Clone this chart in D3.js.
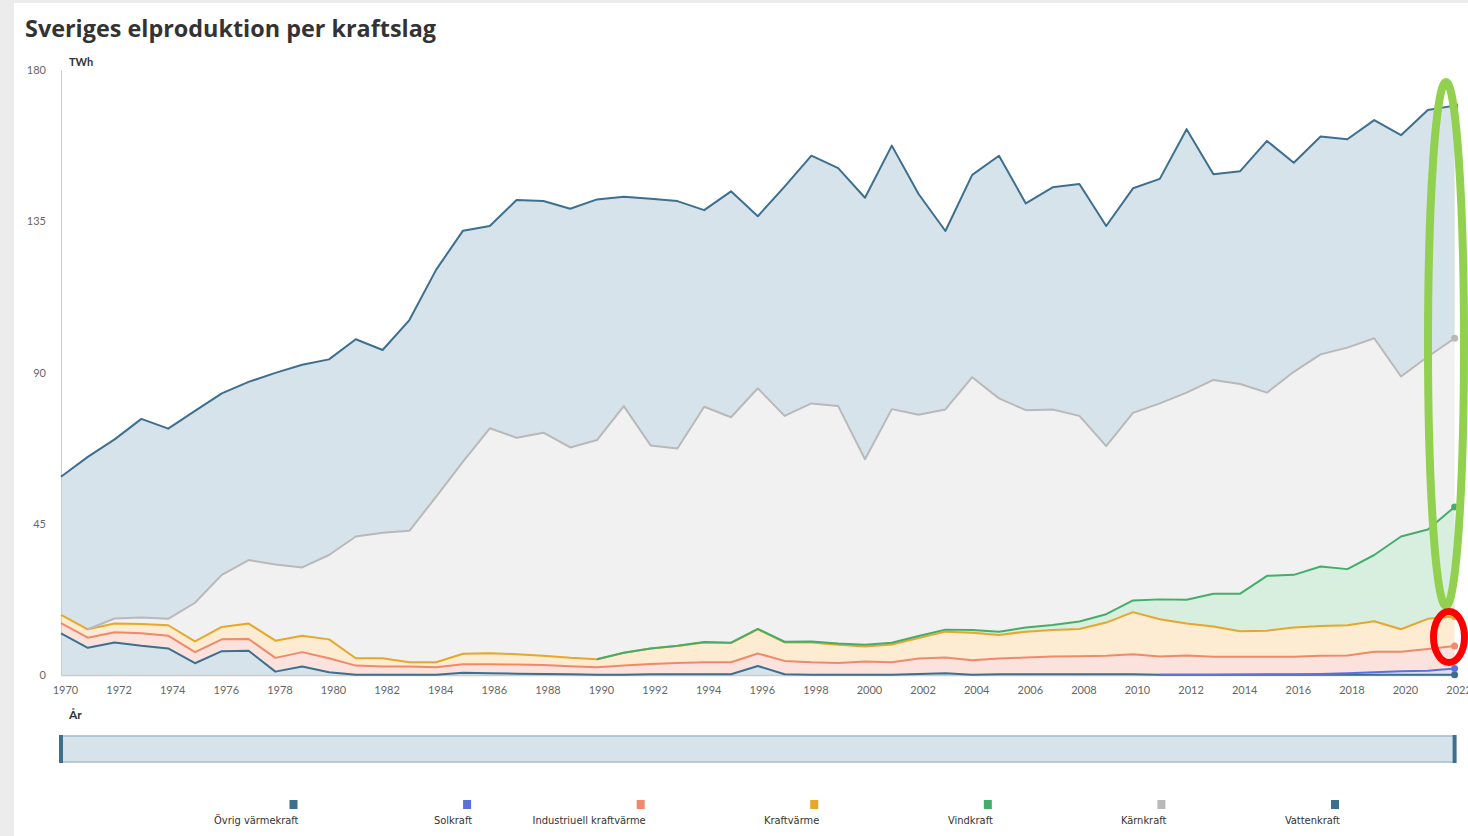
<!DOCTYPE html>
<html>
<head>
<meta charset="utf-8">
<script src="https://cdn.jsdelivr.net/npm/d3@7"></script>
<style>
  body { margin: 0; background: #ececec; }
  svg { display: block; }
  .tick text { font-family: Lato, "Open Sans", sans-serif; }
</style>
</head>
<body>
<svg id="chart" width="1468" height="836"></svg>
<script>
const years = [1970, 1971, 1972, 1973, 1974, 1975, 1976, 1977, 1978, 1979,
  1980, 1981, 1982, 1983, 1984, 1985, 1986, 1987, 1988, 1989,
  1990, 1991, 1992, 1993, 1994, 1995, 1996, 1997, 1998, 1999,
  2000, 2001, 2002, 2003, 2004, 2005, 2006, 2007, 2008, 2009,
  2010, 2011, 2012, 2013, 2014, 2015, 2016, 2017, 2018, 2019,
  2020, 2021, 2022];

// TWh per kraftslag, stackas i denna ordning (nerifrån och upp)
const ovrigVarmekraft = [12.4, 8.1, 9.7, 8.7, 7.9, 3.5, 7.1, 7.2, 1.0, 2.5,
  0.8, 0.1, 0.1, 0.1, 0.05, 0.7, 0.5, 0.4, 0.3, 0.2,
  0.1, 0.1, 0.2, 0.2, 0.2, 0.2, 2.7, 0.2, 0.1, 0.1,
  0.1, 0.1, 0.3, 0.5, 0.1, 0.2, 0.2, 0.2, 0.2, 0.2,
  0.2, 0.1, 0.1, 0.1, 0.1, 0.1, 0.1, 0.1, 0.1, 0.1,
  0.1, 0.1, 0.1];
const solkraft = [null, null, null, null, null, null, null, null, null, null,
  null, null, null, null, null, null, null, null, null, null,
  null, null, null, null, null, null, null, null, null, null,
  null, null, null, null, null, null, null, null, null, null,
  null, 0.0, 0.0, 0.0, 0.05, 0.1, 0.1, 0.2, 0.4, 0.7,
  1.0, 1.2, 1.8];
const industriellKraftvarme = [3.0, 3.0, 3.0, 3.7, 3.8, 3.3, 3.5, 3.5, 4.1, 4.3,
  4.2, 2.7, 2.4, 2.4, 2.25, 2.5, 2.7, 2.7, 2.7, 2.4,
  2.2, 2.7, 3.1, 3.4, 3.6, 3.6, 3.7, 4.0, 3.7, 3.5,
  3.9, 3.7, 4.6, 4.7, 4.3, 4.7, 5.0, 5.3, 5.4, 5.5,
  6.0, 5.4, 5.7, 5.3, 5.25, 5.2, 5.2, 5.4, 5.3, 6.1,
  5.8, 6.4, 6.7];
const kraftvarme = [2.5, 2.5, 2.6, 2.8, 3.1, 3.2, 3.7, 4.6, 5.1, 4.9,
  5.6, 2.2, 2.5, 1.3, 1.5, 3.1, 3.3, 3.1, 2.7, 2.5,
  2.4, 3.8, 4.6, 5.0, 5.9, 5.7, 7.2, 5.5, 5.9, 5.4,
  4.5, 5.3, 6.1, 7.7, 8.2, 7.0, 7.7, 7.9, 8.1, 9.9,
  12.5, 11.1, 9.5, 9.0, 7.6, 7.8, 8.7, 8.9, 9.0, 9.1,
  6.7, 9.0, 8.8];
const vindkraft = [null, null, null, null, null, null, null, null, null, null,
  null, null, null, null, null, null, null, null, null, null,
  0.0, 0.0, 0.0, 0.1, 0.1, 0.1, 0.1, 0.2, 0.3, 0.4,
  0.5, 0.5, 0.6, 0.6, 0.8, 1.0, 1.2, 1.5, 2.2, 2.5,
  3.5, 5.9, 7.1, 9.8, 11.2, 16.3, 15.7, 17.7, 16.7, 19.7,
  27.6, 26.6, 32.6];
const karnkraft = [null, 0.0, 1.5, 1.9, 1.9, 11.5, 15.5, 18.9, 22.7, 20.3,
  25.1, 36.2, 37.3, 39.1, 49.3, 57.2, 66.9, 64.4, 66.4, 62.6,
  65.2, 73.4, 60.4, 58.7, 70.0, 67.1, 71.6, 67.2, 70.8, 70.6,
  55.2, 69.5, 65.8, 65.5, 75.2, 69.4, 64.7, 64.1, 61.2, 50.0,
  55.8, 58.3, 61.6, 63.6, 62.4, 54.5, 60.4, 63.1, 65.9, 64.5,
  47.6, 51.4, 50.2];
const vattenkraft = [41.1, 51.3, 53.3, 59.1, 56.6, 57.1, 54.0, 53.0, 57.0, 60.3,
  58.2, 58.7, 54.4, 62.7, 67.5, 68.7, 60.2, 70.7, 68.9, 71.0,
  71.6, 62.3, 73.4, 73.6, 58.5, 67.2, 51.2, 68.2, 73.7, 70.8,
  77.8, 78.4, 65.7, 53.1, 60.2, 72.2, 61.5, 66.1, 69.0, 65.5,
  66.8, 66.8, 78.4, 61.2, 63.3, 74.9, 62.2, 64.8, 62.0, 64.9,
  71.8, 73.4, 69.2];

const seriesNames = ["Övrig värmekraft", "Solkraft", "Industriuell kraftvärme",
  "Kraftvärme", "Vindkraft", "Kärnkraft", "Vattenkraft"];
const seriesValues = [ovrigVarmekraft, solkraft, industriellKraftvarme,
  kraftvarme, vindkraft, karnkraft, vattenkraft];
const lineColors = ["#3d6f8f", "#5b72dc", "#f0896b", "#e6a72a", "#45ad6c", "#b9b9b9", "#3d6f8f"];
const fillColors = ["#d7e3ea", "#dde2f7", "#fbe2dd", "#fdecd2", "#d8eedf", "#f1f1f1", "#d7e3ea"];
const yTicks = [0, 45, 90, 135, 180];
const xTicks = years.filter((yr) => yr % 2 === 0);

const svg = d3.select("#chart");

// vit panel med grå kant upptill och till vänster
svg.append("rect").attr("x", 14).attr("y", 3).attr("width", 1454).attr("height", 833).attr("fill", "#fff");

svg.append("text")
  .attr("x", 25).attr("y", 37)
  .attr("font-family", "'Open Sans', Lato, sans-serif")
  .attr("font-weight", "bold")
  .attr("font-size", 23)
  .attr("fill", "#333")
  .attr("textLength", 411)
  .attr("lengthAdjust", "spacingAndGlyphs")
  .text("Sveriges elproduktion per kraftslag");

const x = d3.scaleLinear().domain([1970, 2022]).range([61, 1454.6]);
const y = d3.scaleLinear().domain([0, 180]).range([675, 70]);

const table = years.map((yr, i) => {
  const row = { year: yr };
  seriesNames.forEach((name, k) => { row[name] = seriesValues[k][i] ?? 0; });
  return row;
});
const stacked = d3.stack().keys(seriesNames)(table);

const area = d3.area()
  .x((d) => x(d.data.year))
  .y0((d) => y(d[0]))
  .y1((d) => y(d[1]));

svg.append("g")
  .selectAll("path")
  .data(stacked)
  .join("path")
  .attr("d", area)
  .attr("fill", (d, i) => fillColors[i]);

// axlar
const yAxis = svg.append("g")
  .attr("transform", "translate(61,0)")
  .call(d3.axisLeft(y).tickValues(yTicks).tickSize(0).tickPadding(15));
yAxis.select(".domain").attr("stroke", "#ccc");
yAxis.selectAll("text").attr("font-size", 11).attr("fill", "#666");

const xAxis = svg.append("g")
  .attr("transform", "translate(0,675)")
  .call(d3.axisBottom(x).tickValues(xTicks).tickFormat(d3.format("d")).tickSize(0).tickPadding(11));
xAxis.select(".domain").attr("stroke", "#ccc").attr("stroke-width", 1.5);
xAxis.selectAll("text").attr("font-size", 11).attr("fill", "#666").attr("dx", 4);

svg.append("text").attr("x", 69).attr("y", 66)
  .attr("font-family", "Lato, sans-serif").attr("font-weight", "bold")
  .attr("font-size", 11).attr("fill", "#333").text("TWh");
svg.append("text").attr("x", 69).attr("y", 719)
  .attr("font-family", "Lato, sans-serif").attr("font-weight", "bold")
  .attr("font-size", 12).attr("fill", "#333").text("År");

// linjer, bara där serien har värden
stacked.forEach((layer, k) => {
  const raw = seriesValues[k];
  const line = d3.line()
    .defined((d, i) => raw[i] !== null)
    .x((d) => x(d.data.year))
    .y((d) => y(d[1]));
  svg.append("path")
    .attr("d", line(layer))
    .attr("fill", "none")
    .attr("stroke", lineColors[k])
    .attr("stroke-width", 2)
    .attr("stroke-linejoin", "round");
});

// markör på sista punkten
svg.append("g")
  .selectAll("circle")
  .data(stacked)
  .join("circle")
  .attr("cx", (d) => x(d[d.length - 1].data.year))
  .attr("cy", (d) => y(d[d.length - 1][1]))
  .attr("r", 3.5)
  .attr("fill", (d, i) => lineColors[i]);

// navigator
svg.append("rect")
  .attr("x", x(1970)).attr("y", 736)
  .attr("width", x(2022) - x(1970)).attr("height", 26)
  .attr("fill", "#d7e3ea").attr("stroke", "#a6bccb").attr("stroke-width", 1.5);
[x(1970), x(2022)].forEach((hx) => {
  svg.append("rect").attr("x", hx - 2).attr("y", 735).attr("width", 4).attr("height", 28).attr("fill", "#3d6f8f");
});

// legend
const legendX = d3.scaleLinear().domain([0, seriesNames.length - 1]).range([293.5, 1335]);
const legend = svg.append("g")
  .selectAll("g")
  .data(seriesNames)
  .join("g")
  .attr("transform", (d, i) => `translate(${legendX(i)},0)`);
legend.append("rect")
  .attr("x", -4).attr("y", 800).attr("width", 8).attr("height", 9)
  .attr("fill", (d, i) => lineColors[i]);
legend.append("text")
  .attr("x", 5).attr("y", 824)
  .attr("text-anchor", "end")
  .attr("font-family", "'Liberation Sans Narrow', 'DejaVu Sans Condensed', sans-serif")
  .attr("font-size", 11)
  .attr("fill", "#333")
  .text((d) => d);

// markeringar
svg.append("ellipse")
  .attr("cx", 1446).attr("cy", 344).attr("rx", 18).attr("ry", 262)
  .attr("fill", "none").attr("stroke", "#92d050").attr("stroke-width", 8);
svg.append("ellipse")
  .attr("cx", 1449).attr("cy", 637).attr("rx", 15.5).attr("ry", 25.5)
  .attr("fill", "none").attr("stroke", "#ff0000").attr("stroke-width", 7);
</script>
</body>
</html>
